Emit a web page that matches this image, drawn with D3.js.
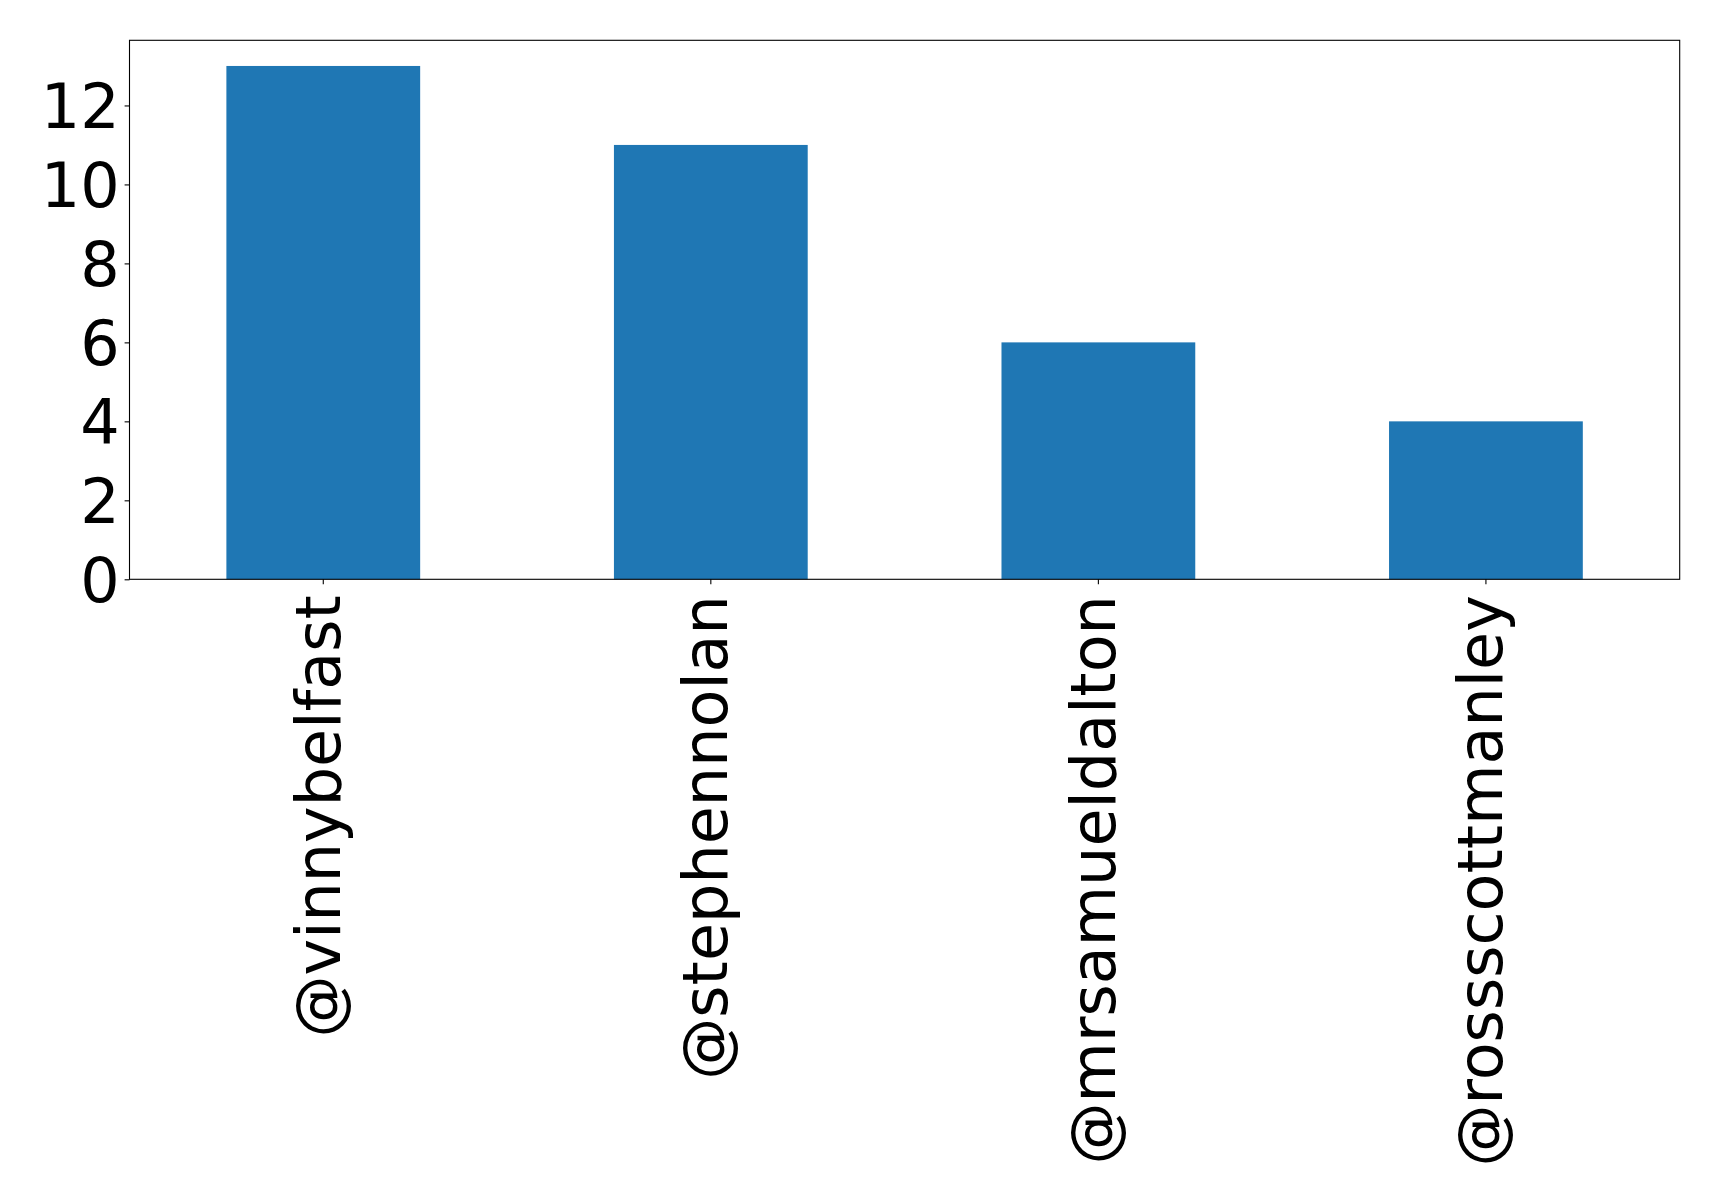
<!DOCTYPE html>
<html>
<head>
<meta charset="utf-8">
<script src="https://cdn.jsdelivr.net/npm/d3@7"></script>
<style>
  html, body { margin: 0; padding: 0; background: #fff; }
  svg { display: block; }
  text { font-family: "DejaVu Sans", sans-serif; fill: #000; }
</style>
</head>
<body>
<svg id="chart" width="1719" height="1204"></svg>
<script>
const categories = ["@vinnybelfast", "@stephennolan", "@mrsamueldalton", "@rossscottmanley"];
const values = [13, 11, 6, 4];
const yTicks = [0, 2, 4, 6, 8, 10, 12];

const W = 1719, H = 1204;
const margin = { left: 129.5, top: 40.3, right: W - 1679.7, bottom: H - 579.3 };
const fontSize = 62;
const tickLen = 4.9, tickPad = 4.9;

const svg = d3.select("#chart");
const g = svg.append("g").attr("transform", `translate(${margin.left},${margin.top})`);
const iw = W - margin.left - margin.right;
const ih = H - margin.top - margin.bottom;

const x = d3.scaleBand().domain(categories).range([0, iw]).paddingInner(0.5).paddingOuter(0.25);
const ymax = d3.max(values) * 1.05;
const y = d3.scaleLinear().domain([0, ymax]).range([ih, 0]);

g.selectAll("rect.bar").data(categories).join("rect")
  .attr("class", "bar")
  .attr("x", d => x(d))
  .attr("width", x.bandwidth())
  .attr("y", (d, i) => y(values[i]))
  .attr("height", (d, i) => y(0) - y(values[i]))
  .attr("fill", "#1f77b4");

// Y axis
const yAxis = g.append("g")
  .call(d3.axisLeft(y).tickValues(yTicks).tickSize(tickLen).tickPadding(tickPad).tickFormat(d3.format("d")));
yAxis.select(".domain").remove();
yAxis.selectAll(".tick line").attr("stroke", "#000").attr("stroke-width", 1.1);
yAxis.selectAll(".tick text")
  .attr("font-size", fontSize)
  .attr("font-family", "DejaVu Sans")
  .attr("dy", "0.36em");

// X axis
const xAxis = g.append("g").attr("transform", `translate(0,${ih})`)
  .call(d3.axisBottom(x).tickSize(tickLen).tickPadding(tickPad));
xAxis.select(".domain").remove();
xAxis.selectAll(".tick line").attr("stroke", "#000").attr("stroke-width", 1.1);
xAxis.selectAll(".tick text")
  .attr("font-size", fontSize)
  .attr("font-family", "DejaVu Sans")
  .attr("text-anchor", "end")
  .attr("x", 0)
  .attr("y", 0)
  .attr("dy", "0.265em")
  .attr("transform", `translate(0,${tickLen + tickPad + 6}) rotate(-90)`);

// Frame (spines)
g.append("rect")
  .attr("x", 0).attr("y", 0).attr("width", iw).attr("height", ih)
  .attr("fill", "none").attr("stroke", "#000").attr("stroke-width", 1.1);
</script>
</body>
</html>
